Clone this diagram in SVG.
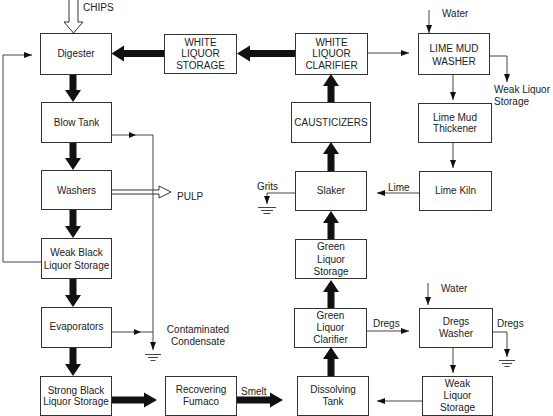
<svg xmlns="http://www.w3.org/2000/svg" width="553" height="416" viewBox="0 0 553 416">
<defs>
<style>
.box{fill:#fff;stroke:#333;stroke-width:1}
.t{font-family:"Liberation Sans",Arial,sans-serif;font-size:10px;fill:#222;text-anchor:middle}
.l{font-family:"Liberation Sans",Arial,sans-serif;font-size:10px;fill:#222;text-anchor:start}
.thin{fill:none;stroke:#444;stroke-width:1}
.thick{fill:#111;stroke:none}
.head{fill:#111;stroke:none}
.open{fill:#fff;stroke:#333;stroke-width:1}
.gnd{stroke:#444;stroke-width:1}
</style>
<marker id="ah" viewBox="0 0 8 6" refX="8" refY="3" markerWidth="8" markerHeight="6" markerUnits="userSpaceOnUse" orient="auto">
<path d="M0,0 L8,3 L0,6 Z" fill="#111"/>
</marker>
</defs>
<rect width="553" height="416" fill="#fff"/>

<g id="connectors">
<!-- open arrows -->
<polygon class="open" points="69,-1 69,22 64,22 73.5,33 83,22 78,22 78,-1"/>
<polygon class="open" points="111,190 159,190 159,186 171,192 159,198 159,194 111,194" style="fill:none"/>
<!-- thick vertical arrows (down) -->
<path class="thick" d="M69.5,74 H76.5 V90 H81 L73,102 L65,90 H69.5 Z"/>
<path class="thick" d="M69.5,142 H76.5 V158 H81 L73,170 L65,158 H69.5 Z"/>
<path class="thick" d="M69.5,209 H76.5 V226 H81 L73,238 L65,226 H69.5 Z"/>
<path class="thick" d="M69.5,278 H76.5 V295 H81 L73,307 L65,295 H69.5 Z"/>
<path class="thick" d="M69.5,347 H76.5 V364 H81 L73,376 L65,364 H69.5 Z"/>
<!-- thick vertical arrows (up) -->
<path class="thick" d="M327.5,376 H334.5 V359 H339 L331,347 L323,359 H327.5 Z"/>
<path class="thick" d="M327.5,308 H334.5 V292 H339 L331,280 L323,292 H327.5 Z"/>
<path class="thick" d="M327.5,239 H334.5 V223 H339 L331,211 L323,223 H327.5 Z"/>
<path class="thick" d="M327.5,171 H334.5 V154 H339 L331,142 L323,154 H327.5 Z"/>
<path class="thick" d="M327.5,102 H334.5 V86 H339 L331,74 L323,86 H327.5 Z"/>
<!-- thick horizontal arrows (left) -->
<path class="thick" d="M295,50 V57 H250 V61.5 L237,53.5 L250,45.5 V50 Z"/>
<path class="thick" d="M164,50 V57 H124 V61.5 L111.5,53.5 L124,45.5 V50 Z"/>
<!-- thick horizontal arrows (right) -->
<path class="thick" d="M111,396.5 V403.5 H144 V407.5 L157,400 L144,392.5 V396.5 Z"/>
<path class="thick" d="M236,396.5 V403.5 H270 V407.5 L283,400 L270,392.5 V396.5 Z"/>

<!-- thin connectors -->
<polyline class="thin" points="41,262 3,262 3,55 32,55" marker-end="url(#ah)"/>
<polyline class="thin" points="111,135 153,135 153,350" marker-end="url(#ah)"/>
<path class="head" d="M129,132 L136,135 L129,138 Z"/>
<line class="thin" x1="111" y1="332" x2="153" y2="332"/>
<path class="head" d="M134,329 L141,332 L134,335 Z"/>
<line class="gnd" x1="145" y1="354.5" x2="161" y2="354.5"/>
<line class="gnd" x1="148" y1="357.5" x2="158" y2="357.5"/>
<line class="gnd" x1="150.5" y1="360.5" x2="155.5" y2="360.5"/>

<line class="thin" x1="367" y1="53" x2="409" y2="53" marker-end="url(#ah)"/>
<line class="thin" x1="429" y1="10" x2="429" y2="33" marker-end="url(#ah)"/>
<polyline class="thin" points="489,56 507,56 507,82" marker-end="url(#ah)"/>
<line class="thin" x1="453" y1="74" x2="453" y2="100" marker-end="url(#ah)"/>
<line class="thin" x1="453" y1="142" x2="453" y2="168" marker-end="url(#ah)"/>
<line class="thin" x1="419" y1="193" x2="377" y2="193" marker-end="url(#ah)"/>
<polyline class="thin" points="295,193 267,193 267,204" marker-end="url(#ah)"/>
<line class="gnd" x1="258" y1="207.5" x2="276" y2="207.5"/>
<line class="gnd" x1="261" y1="210.5" x2="273" y2="210.5"/>
<line class="gnd" x1="263.5" y1="213.5" x2="270.5" y2="213.5"/>
<line class="thin" x1="366" y1="331" x2="409" y2="331" marker-end="url(#ah)"/>
<line class="thin" x1="428" y1="283" x2="428" y2="305" marker-end="url(#ah)"/>
<polyline class="thin" points="492,332 507,332 507,357" marker-end="url(#ah)"/>
<line class="gnd" x1="499" y1="360.5" x2="515" y2="360.5"/>
<line class="gnd" x1="502" y1="363.5" x2="512" y2="363.5"/>
<line class="gnd" x1="504.5" y1="366.5" x2="509.5" y2="366.5"/>
<line class="thin" x1="453" y1="347" x2="453" y2="373" marker-end="url(#ah)"/>
<line class="thin" x1="422" y1="401" x2="377" y2="401" marker-end="url(#ah)"/>
</g>

<g id="labels">
<text class="l" x="83" y="11">CHIPS</text>
<text class="l" x="177" y="199.5">PULP</text>
<text class="l" x="442" y="16.5">Water</text>
<text class="l" x="494" y="92.5">Weak Liquor</text>
<text class="l" x="494" y="104.5">Storage</text>
<text class="l" x="257" y="189.5">Grits</text>
<text class="l" x="388" y="190.5">Lime</text>
<text class="t" x="198" y="332.5">Contaminated</text>
<text class="t" x="198" y="344.5">Condensate</text>
<text class="l" x="373" y="326.5">Dregs</text>
<text class="l" x="441" y="291.5">Water</text>
<text class="l" x="497" y="326.5">Dregs</text>
<text class="l" x="241" y="394.5">Smelt</text>
</g>

<g id="digester"><rect class="box" x="40.5" y="33.5" width="71" height="41"/><text class="t" x="76" y="57">Digester</text></g>
<g id="white-liquor-storage"><rect class="box" x="164.5" y="34.5" width="72" height="39"/><text class="t" x="200.5" y="45.5">WHITE</text><text class="t" x="200.5" y="57">LIQUOR</text><text class="t" x="200.5" y="68.5">STORAGE</text></g>
<g id="white-liquor-clarifier"><rect class="box" x="295.5" y="33.5" width="72" height="41"/><text class="t" x="331.5" y="45.5">WHITE</text><text class="t" x="331.5" y="57">LIQUOR</text><text class="t" x="331.5" y="68.5">CLARIFIER</text></g>
<g id="lime-mud-washer"><rect class="box" x="418.5" y="33.5" width="71" height="41"/><text class="t" x="454" y="51.5">LIME MUD</text><text class="t" x="454" y="64.5">WASHER</text></g>
<g id="causticizers"><rect class="box" x="291.5" y="102.5" width="79" height="40"/><text class="t" x="331" y="125.5">CAUSTICIZERS</text></g>
<g id="lime-mud-thickener"><rect class="box" x="418.5" y="103.5" width="73" height="39"/><text class="t" x="455" y="120.5">Lime Mud</text><text class="t" x="455" y="132">Thickener</text></g>
<g id="blow-tank"><rect class="box" x="41.5" y="102.5" width="70" height="40"/><text class="t" x="76.5" y="125.5">Blow Tank</text></g>
<g id="washers"><rect class="box" x="41.5" y="170.5" width="70" height="39"/><text class="t" x="76.5" y="193.5">Washers</text></g>
<g id="slaker"><rect class="box" x="295.5" y="171.5" width="71" height="39"/><text class="t" x="331" y="194">Slaker</text></g>
<g id="lime-kiln"><rect class="box" x="419.5" y="171.5" width="72" height="39"/><text class="t" x="455.5" y="193.5">Lime Kiln</text></g>
<g id="weak-black-liquor-storage"><rect class="box" x="41.5" y="238.5" width="70" height="40"/><text class="t" x="76.5" y="256">Weak Black</text><text class="t" x="76.5" y="268.5">Liquor Storage</text></g>
<g id="green-liquor-storage"><rect class="box" x="295.5" y="239.5" width="71" height="39"/><text class="t" x="331" y="250">Green</text><text class="t" x="331" y="262.5">Liquor</text><text class="t" x="331" y="274.5">Storage</text></g>
<g id="evaporators"><rect class="box" x="41.5" y="307.5" width="70" height="40"/><text class="t" x="76.5" y="330">Evaporators</text></g>
<g id="green-liquor-clarifier"><rect class="box" x="294.5" y="308.5" width="72" height="39"/><text class="t" x="330.5" y="318.5">Green</text><text class="t" x="330.5" y="331">Liquor</text><text class="t" x="330.5" y="343">Clarifier</text></g>
<g id="dregs-washer"><rect class="box" x="419.5" y="308.5" width="73" height="39"/><text class="t" x="456" y="325">Dregs</text><text class="t" x="456" y="337">Washer</text></g>
<g id="strong-black-liquor-storage"><rect class="box" x="40.5" y="376.5" width="71" height="39"/><text class="t" x="76" y="393.5">Strong Black</text><text class="t" x="76" y="405">Liquor Storage</text></g>
<g id="recovering-fumaco"><rect class="box" x="165.5" y="376.5" width="71" height="39"/><text class="t" x="201" y="393">Recovering</text><text class="t" x="201" y="404.5">Fumaco</text></g>
<g id="dissolving-tank"><rect class="box" x="297.5" y="376.5" width="71" height="39"/><text class="t" x="333" y="393">Dissolving</text><text class="t" x="333" y="404.5">Tank</text></g>
<g id="weak-liquor-storage"><rect class="box" x="422.5" y="376.5" width="70" height="39"/><text class="t" x="457.5" y="387">Weak</text><text class="t" x="457.5" y="399">Liquor</text><text class="t" x="457.5" y="411">Storage</text></g>
</svg>
